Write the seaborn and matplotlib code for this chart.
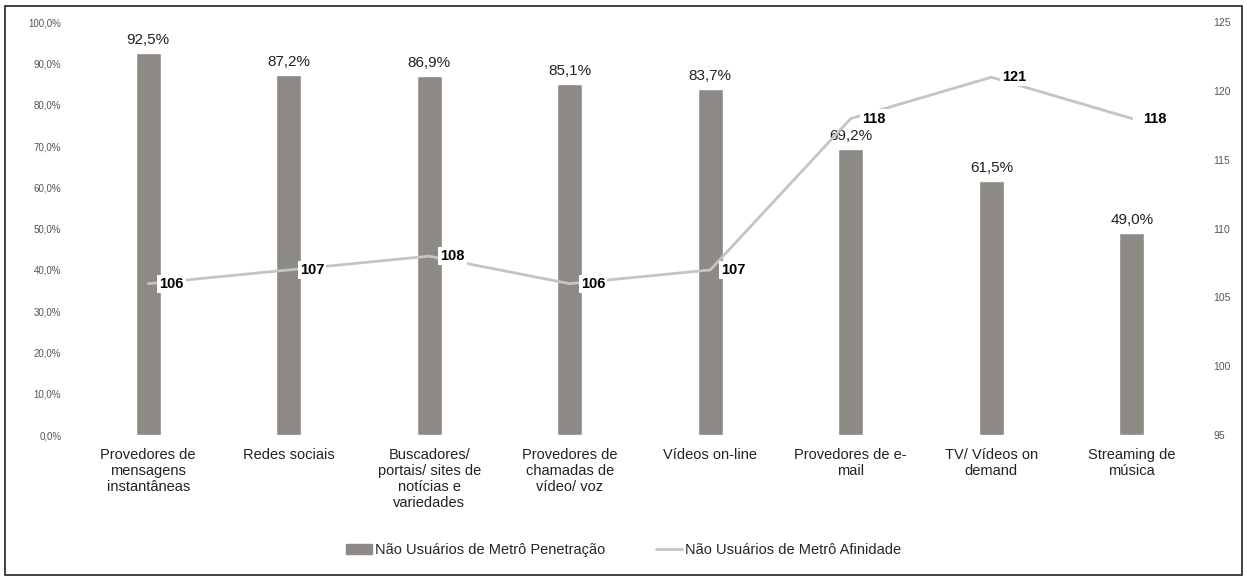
import matplotlib
matplotlib.use("Agg")
import matplotlib.pyplot as plt
import seaborn as sns
import pandas as pd
from matplotlib.patches import Rectangle
from matplotlib.lines import Line2D

categories = ["Provedores de\nmensagens\ninstantâneas", "Redes sociais",
              "Buscadores/\nportais/ sites de\nnotícias e\nvariedades",
              "Provedores de\nchamadas de\nvídeo/ voz", "Vídeos on-line",
              "Provedores de e-\nmail", "TV/ Vídeos on\ndemand", "Streaming de\nmúsica"]
penetracao = [92.5, 87.2, 86.9, 85.1, 83.7, 69.2, 61.5, 49.0]
afinidade = [106, 107, 108, 106, 107, 118, 121, 118]
left_ticks = [0, 10, 20, 30, 40, 50, 60, 70, 80, 90, 100]
right_ticks = [95, 100, 105, 110, 115, 120, 125]
bar_name = "Não Usuários de Metrô Penetração"
line_name = "Não Usuários de Metrô Afinidade"

sns.set_theme(style="white")
plt.rcParams['font.family'] = ['Liberation Sans', 'DejaVu Sans']

bar_color = "#8d8985"
line_color = "#c4c4c4"

df = pd.DataFrame({"cat": categories, "pen": penetracao, "afi": afinidade, "x": range(len(categories))})

fig = plt.figure(figsize=(12.47, 5.84), dpi=100)
ax = fig.add_axes([0.0625, 0.255, 0.9015, 0.707])
sns.barplot(data=df, x="cat", y="pen", color=bar_color, width=0.18, ax=ax, saturation=1)
ax.set_ylim(0, 100)
ax.set_xlim(-0.5, len(categories) - 0.5)
ax.set_yticks(left_ticks)
ax.set_yticklabels([f"{v:.1f}%".replace(".", ",") for v in left_ticks], fontsize=7, color="#555555")
ax.set_xlabel("")
ax.set_ylabel("")
ax.tick_params(axis="x", labelsize=10.5, colors="#222222", length=0, pad=9)
ax.tick_params(axis="y", length=0, pad=12)
for s in ax.spines.values():
    s.set_visible(False)
for i, v in enumerate(penetracao):
    ax.text(i, v + 1.5, f"{v:.1f}%".replace(".", ","), ha="center", va="bottom", fontsize=11, color="#222222")

ax2 = ax.twinx()
sns.lineplot(data=df, x="x", y="afi", color=line_color, linewidth=2, ax=ax2)
ax2.set_ylim(95, 125)
ax2.set_yticks(right_ticks)
ax2.set_yticklabels([str(v) for v in right_ticks], fontsize=7.5, color="#555555")
ax2.set_xlim(-0.5, len(categories) - 0.5)
ax2.set_xlabel("")
ax2.set_ylabel("")
ax2.tick_params(axis="y", length=0, pad=8)
for s in ax2.spines.values():
    s.set_visible(False)
for i, v in enumerate(afinidade):
    ax2.annotate(str(v), (i, v), xytext=(8, 0), textcoords="offset points", ha="left", va="center",
                 fontsize=10.5, fontweight="bold", color="black",
                 bbox=dict(boxstyle="square,pad=0.15", fc="white", ec="none"))

handles = [Rectangle((0, 0), 1, 1, color=bar_color), Line2D([0], [0], color=line_color, lw=2)]
fig.legend(handles, [bar_name, line_name], loc="center", bbox_to_anchor=(0.5, 0.058), ncol=2,
           frameon=False, fontsize=10.5, handlelength=1.8, columnspacing=3.5, handletextpad=0.2)

fig.add_artist(Rectangle((0.004, 0.015), 0.992, 0.975, transform=fig.transFigure, fill=False,
                         ec="#222222", lw=1.2))
fig.savefig("out.png", dpi=100)
